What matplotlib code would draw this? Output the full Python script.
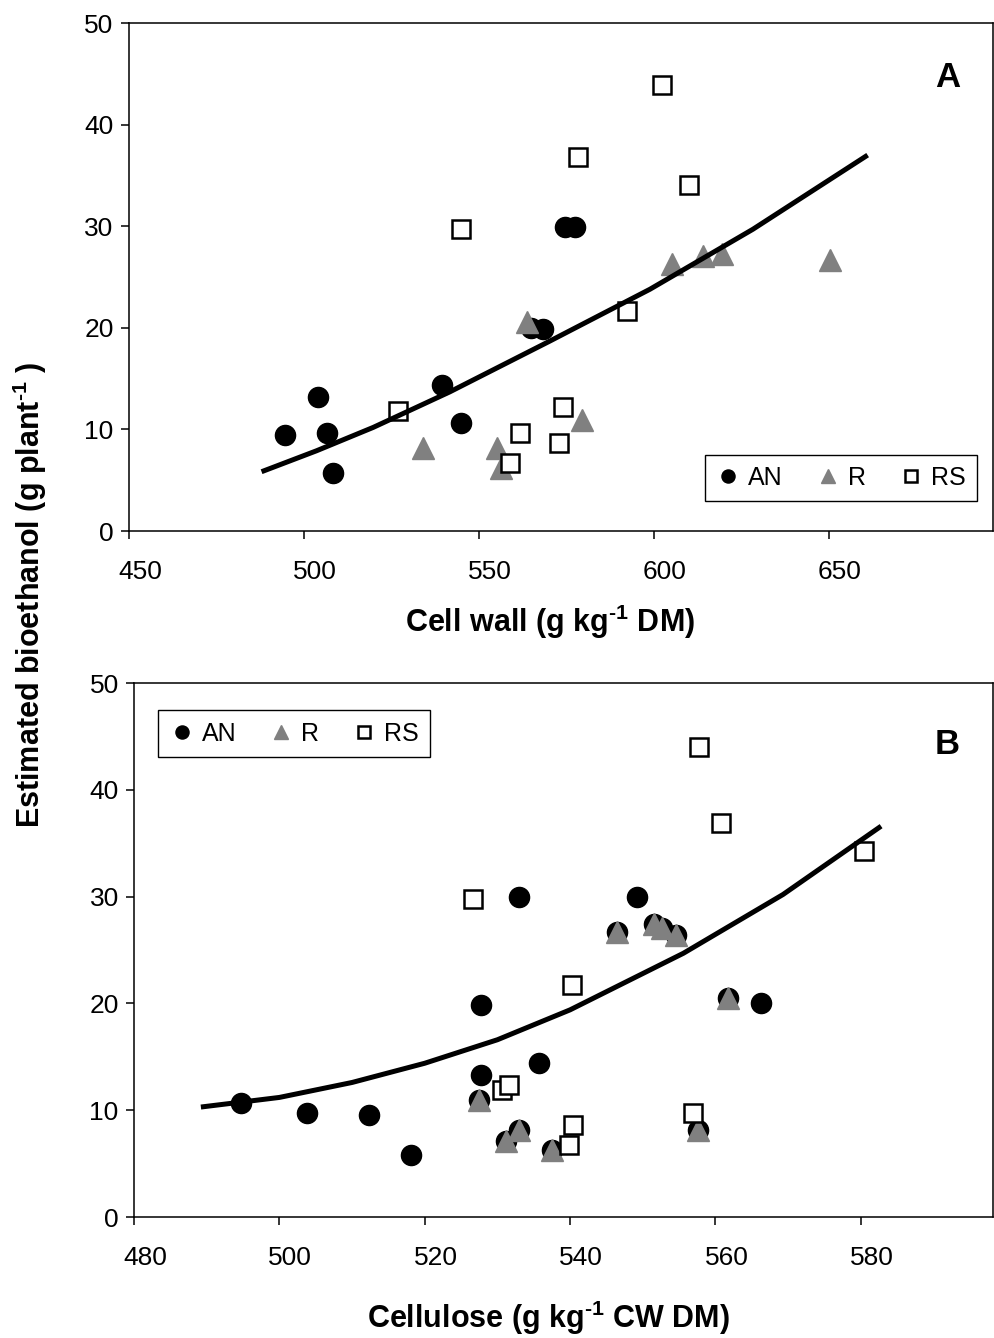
import matplotlib
matplotlib.use('Agg')
import matplotlib.pyplot as plt
from matplotlib.transforms import ScaledTranslation

plt.rcParams['font.family'] = ['Liberation Sans', 'DejaVu Sans']
plt.rcParams['mathtext.fontset'] = 'custom'
plt.rcParams['mathtext.rm'] = 'Liberation Sans:bold'
plt.rcParams['mathtext.bf'] = 'Liberation Sans:bold'
plt.rcParams['mathtext.default'] = 'bf'

# ---------------- Panel A data (cell wall, g/kg DM) ----------------
a_an_x = [494.6, 504.1, 506.5, 508.2, 539.5, 544.9, 564.9, 568.2, 574.6, 577.4]
a_an_y = [9.45, 13.16, 9.62, 5.74, 14.37, 10.6, 19.95, 19.88, 29.95, 29.95]

a_r_x = [563.8, 533.9, 555.1, 556.2, 579.6, 605.2, 614.1, 619.6, 650.3]
a_r_y = [20.54, 8.14, 8.14, 6.17, 10.93, 26.25, 27.07, 27.26, 26.67]

a_rs_x = [526.8, 561.7, 574.0, 572.9, 558.9, 592.2, 544.9, 578.2, 602.3, 610.0]
a_rs_y = [11.84, 9.67, 12.23, 8.69, 6.72, 21.68, 29.72, 36.78, 43.9, 34.06]

a_fit_x = [487.9, 503.6, 519.8, 541.7, 570.3, 598.9, 628.3, 661.1]
a_fit_y = [5.84, 7.9, 10.2, 13.7, 18.7, 23.8, 29.7, 37.0]

# ---------------- Panel B data (cellulose, g/kg CW DM) ----------------
b_an_x = [494.7, 503.8, 512.3, 518.1, 527.7, 527.5, 527.7, 533.0, 531.2, 533.0,
          535.7, 537.5, 546.5, 549.2, 551.6, 552.6, 554.6, 557.6, 561.7, 566.3]
b_an_y = [10.65, 9.71, 9.55, 5.8, 13.3, 11.0, 19.85, 29.93, 7.1, 8.15,
          14.39, 6.3, 26.7, 29.93, 27.4, 27.1, 26.4, 8.15, 20.5, 20.0]

b_r_x = [527.5, 531.2, 533.0, 537.5, 546.5, 551.6, 552.6, 554.6, 557.6, 561.7]
b_r_y = [11.0, 7.1, 8.15, 6.3, 26.7, 27.4, 27.1, 26.4, 8.15, 20.5]

b_rs_x = [526.6, 530.6, 531.6, 540.2, 540.4, 539.8, 556.9, 557.8, 560.8, 580.4]
b_rs_y = [29.78, 11.89, 12.36, 21.72, 8.6, 6.74, 9.74, 43.98, 36.86, 34.27]

b_fit_x = [489.2, 500.0, 510.0, 520.0, 530.0, 540.0, 555.6, 569.3, 582.8]
b_fit_y = [10.3, 11.2, 12.6, 14.4, 16.6, 19.4, 24.7, 30.2, 36.6]

series_names = ['AN', 'R', 'RS']
grey = '#808080'

fig = plt.figure(figsize=(9.95, 13.38), dpi=100)
axA = fig.add_axes([0.1296, 0.6031, 0.8683, 0.3797])
axB = fig.add_axes([0.1347, 0.0904, 0.8633, 0.3991])

MS = 14.5


def draw(ax, anx, any_, rx, ry, rsx, rsy, fx, fy, xlim, xticks):
    ax.plot(anx, any_, linestyle='none', marker='o', ms=MS, mfc='black', mec='black',
            label=series_names[0], zorder=3)
    ax.plot(rx, ry, linestyle='none', marker='^', ms=MS + 1.5, mfc=grey, mec=grey,
            label=series_names[1], zorder=4)
    ax.plot(rsx, rsy, linestyle='none', marker='s', ms=MS - 1.5, mfc='white', mec='black',
            mew=1.8, label=series_names[2], zorder=5)
    ax.plot(fx, fy, color='black', lw=3.6, solid_capstyle='butt', solid_joinstyle='round',
            zorder=6)
    ax.set_xlim(*xlim)
    ax.set_xticks(xticks)
    ax.set_ylim(0, 50)
    ax.set_yticks([0, 10, 20, 30, 40, 50])
    for s in ax.spines.values():
        s.set_linewidth(1.1)
        s.set_color('black')
    ax.tick_params(direction='out', length=6, width=1.1, labelsize=19, top=False, right=False)
    ax.tick_params(axis='x', pad=15)
    ax.tick_params(axis='y', pad=5)
    off = ScaledTranslation(11 / 100, 0, fig.dpi_scale_trans)
    for lab in ax.get_xticklabels():
        lab.set_transform(lab.get_transform() + off)


draw(axA, a_an_x, a_an_y, a_r_x, a_r_y, a_rs_x, a_rs_y, a_fit_x, a_fit_y,
     (450, 696.9), [450, 500, 550, 600, 650])
draw(axB, b_an_x, b_an_y, b_r_x, b_r_y, b_rs_x, b_rs_y, b_fit_x, b_fit_y,
     (480, 598.2), [480, 500, 520, 540, 560, 580])

leg_kw = dict(ncol=3, fontsize=18, frameon=True, fancybox=False, framealpha=1,
              edgecolor='black', markerscale=0.65, handletextpad=0.3,
              columnspacing=1.3, borderpad=0.45, handlelength=1.0, borderaxespad=0)
lA = axA.legend(loc='lower right', bbox_to_anchor=(0.9815, 0.059), **leg_kw)
lB = axB.legend(loc='upper left', bbox_to_anchor=(0.028, 0.949), **leg_kw)
for l in (lA, lB):
    l.get_frame().set_linewidth(1.0)
    l.set_zorder(10)

axA.text(0.948, 0.893, 'A', transform=axA.transAxes, fontsize=25, fontweight='bold',
         ha='center', va='center')
axB.text(0.9465, 0.884, 'B', transform=axB.transAxes, fontsize=25, fontweight='bold',
         ha='center', va='center')

sup = r'$^{\text{-}1}$'
fig.text(550 / 995, 1 - 622 / 1338, 'Cell wall (g kg' + sup + ' DM)', fontsize=22,
         fontweight='bold', ha='center', va='center')
fig.text(548 / 995, 1 - 1318 / 1338, 'Cellulose (g kg' + sup + ' CW DM)', fontsize=22,
         fontweight='bold', ha='center', va='center')
fig.text(30 / 995, 1 - 595 / 1338, 'Estimated bioethanol (g plant' + sup + ' )', fontsize=22,
         fontweight='bold', ha='center', va='center', rotation=90)

fig.savefig('out.png', dpi=100, facecolor='white')
